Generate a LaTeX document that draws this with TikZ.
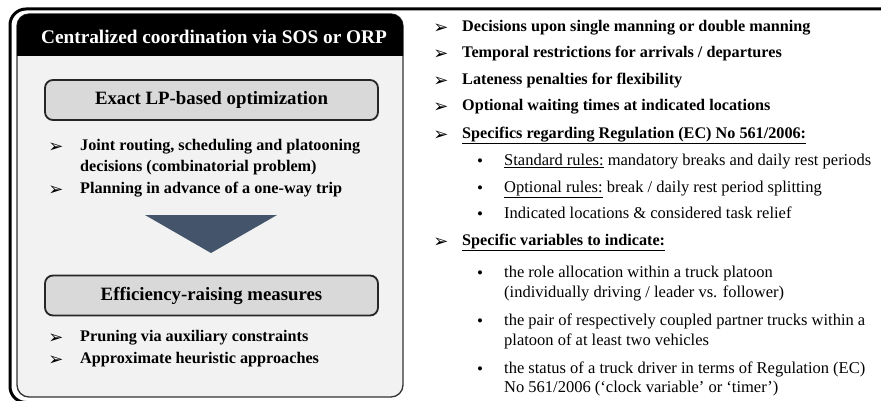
\documentclass[tikz,border=0pt]{standalone}
\usepackage{fontspec}
\setmainfont{Liberation Serif}
\newfontfamily\symfont{DejaVu Sans}
\usetikzlibrary{positioning}

\definecolor{panelgray}{HTML}{F2F2F2}
\definecolor{boxgray}{HTML}{D9D9D9}
\definecolor{slate}{HTML}{44546A}

\newcommand{\pointer}{{\symfont\char"27A2}}

\begin{document}
\begin{tikzpicture}[x=1pt, y=-1pt,
  stage/.style={draw=black!85, line width=1.8pt, fill=boxgray, rounded corners=8pt,
    minimum width=333pt, minimum height=40pt, inner sep=0pt,
    font=\bfseries\fontsize{18.8}{20}\selectfont},
  tip/.style={anchor=center, inner sep=0pt, font=\fontsize{18}{19}\selectfont},
  dot/.style={anchor=center, inner sep=0pt, font=\fontsize{17}{18}\selectfont},
  item/.style={anchor=mid west, inner sep=0pt, font=\bfseries\fontsize{16.2}{18}\selectfont},
  plain/.style={anchor=mid west, inner sep=0pt, font=\fontsize{16.5}{18}\selectfont}]
  \useasboundingbox (0,0) rectangle (881,401);
  \clip (0,0) rectangle (881,401);

  % outer frame and left panel
  \draw[line width=3pt, rounded corners=16pt] (10,9) rectangle (920,402.5);
  \draw[fill=panelgray, draw=black!80, line width=1.3pt, rounded corners=12pt] (17,14) rectangle (403,397);
  \fill (17,56) [rounded corners=12pt] -- (17,14) -- (403,14) [sharp corners] -- (403,56) -- cycle;
  \node[text=white, font=\bfseries\fontsize{19.3}{21}\selectfont] (head) at (214,37) {Centralized coordination via SOS or ORP};

  % the two stages with the arrow in between
  \node[stage] (lp) at (211.5,100) {Exact LP-based optimization};
  \node[stage] (eff) at (211.5,295.5) {Efficiency-raising measures};
  \fill[slate] (145,215) -- (277,215) -- (211,253) -- cycle;

  \foreach \y/\txt [count=\i] in {148/{Joint routing, scheduling and platooning},
      191/{Planning in advance of a one-way trip},
      339/{Pruning via auxiliary constraints},
      361/{Approximate heuristic approaches}} {
    \node[tip] (lm-\i) at (56,\y) {\pointer};
    \node[item] (lt-\i) at (80,\y) {\txt};
  }
  \node[item] (lt-1b) at (80,169) {decisions (combinatorial problem)};

  % right column
  \foreach \y/\txt [count=\i] in {29/{Decisions upon single manning or double manning},
      55/{Temporal restrictions for arrivals / departures},
      82/{Lateness penalties for flexibility},
      108/{Optional waiting times at indicated locations},
      136/{\underline{Specifics regarding Regulation (EC) No 561/2006:}},
      243/{\underline{Specific variables to indicate:}}} {
    \node[tip] (rm-\i) at (441,\y) {\pointer};
    \node[item] (rt-\i) at (462,\y) {\txt};
  }
  \foreach \y/\txt [count=\i] in {163/{\underline{Standard rules:} mandatory breaks and daily rest periods},
      190/{\underline{Optional rules:} break / daily rest period splitting},
      216/{Indicated locations \& considered task relief},
      275/{the role allocation within a truck platoon},
      323/{the pair of respectively coupled partner trucks within a},
      371/{the status of a truck driver in terms of Regulation (EC)}} {
    \node[dot] (sm-\i) at (480,\y) {•};
    \node[plain] (st-\i) at (504,\y) {\txt};
  }
  \node[plain] (st-4b) at (504,295) {(individually driving / leader vs. follower)};
  \node[plain] (st-5b) at (504,343) {platoon of at least two vehicles};
  \node[plain] (st-6b) at (504,390) {No 561/2006 (‘clock variable’ or ‘timer’)};
\end{tikzpicture}
\end{document}
